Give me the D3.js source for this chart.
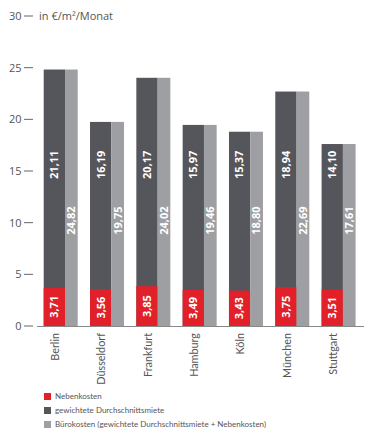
<!DOCTYPE html>
<html>
<head>
<meta charset="utf-8">
<script src="https://cdn.jsdelivr.net/npm/d3@7"></script>
<style>
body { margin: 0; background: #fff; }
text { font-family: "Open Sans", "Noto Sans", sans-serif; }
.cat, .leg text { font-family: Lato, "Open Sans", sans-serif; }
</style>
</head>
<body>
<div id="chart"></div>
<script>
var cities = ['Berlin', 'Düsseldorf', 'Frankfurt', 'Hamburg', 'Köln', 'München', 'Stuttgart']
var nebenkosten = [3.71, 3.56, 3.85, 3.49, 3.43, 3.75, 3.51]
var miete = [21.11, 16.19, 20.17, 15.97, 15.37, 18.94, 14.10]
var buero = [24.82, 19.75, 24.02, 19.46, 18.80, 22.69, 17.61]
var yTicks = [0, 5, 10, 15, 20, 25, 30]
var legendLabels = ['Nebenkosten', 'gewichtete Durchschnittsmiete', 'Bürokosten (gewichtete Durchschnittsmiete + Nebenkosten)']

var red = '#e2202a', dark = '#55565b', light = '#9e9fa3', grey = '#666'
var fmt = d => d.toFixed(2).replace('.', ',')

var svg = d3.select('#chart').append('svg').attr('width', 380).attr('height', 438)

var y = d3.scaleLinear().domain([0, 30]).range([326, 16])
var x = d3.scaleBand().domain(cities).range([35.6, 363.7]).paddingInner(0.266).paddingOuter(0.175)
var dw = x.bandwidth() * 0.627 // dark bar share of the group

// y axis: only labels and short ticks
var yAxis = svg.append('g')
yAxis.selectAll('line').data(yTicks).join('line')
  .attr('x1', 24).attr('x2', 33).attr('y1', d => y(d)).attr('y2', d => y(d))
  .attr('stroke', grey).attr('stroke-width', 1)
yAxis.selectAll('text').data(yTicks).join('text')
  .attr('x', 21.5).attr('y', d => y(d)).attr('dy', '0.35em')
  .attr('text-anchor', 'end').attr('font-size', 11).attr('fill', '#555')
  .text(d => d)

svg.append('text').attr('x', 39).attr('y', y(30)).attr('dy', '0.35em')
  .attr('font-size', 11).attr('fill', '#555').text('in €/m²/Monat')

var g = svg.selectAll('g.city').data(cities).join('g').attr('class', 'city')

g.append('rect').attr('fill', dark)
  .attr('x', d => x(d)).attr('width', dw)
  .attr('y', (d, i) => y(nebenkosten[i] + miete[i]))
  .attr('height', (d, i) => y(0) - y(nebenkosten[i] + miete[i]))
g.append('rect').attr('fill', red)
  .attr('x', d => x(d)).attr('width', dw)
  .attr('y', (d, i) => y(nebenkosten[i]))
  .attr('height', (d, i) => y(0) - y(nebenkosten[i]))
g.append('rect').attr('fill', light)
  .attr('x', d => x(d) + dw).attr('width', x.bandwidth() - dw)
  .attr('y', (d, i) => y(buero[i]))
  .attr('height', (d, i) => y(0) - y(buero[i]))

function barLabel(cx, cy, txt) {
  svg.append('text')
    .attr('transform', 'translate(' + cx + ',' + cy + ') rotate(-90)')
    .attr('text-anchor', 'middle').attr('dy', '0.35em')
    .attr('font-size', 11).attr('font-weight', 'bold').attr('fill', '#fff')
    .text(txt)
}
cities.forEach(function(c, i) {
  barLabel(x(c) + dw / 2, y(nebenkosten[i] / 2), fmt(nebenkosten[i]))
  barLabel(x(c) + dw / 2, y(15.6), fmt(miete[i]))
  barLabel(x(c) + dw + (x.bandwidth() - dw) / 2, y(10.2), fmt(buero[i]))
})

svg.append('line').attr('x1', 37).attr('x2', 364).attr('y1', 326.5).attr('y2', 326.5)
  .attr('stroke', '#888').attr('stroke-width', 1)

svg.selectAll('text.cat').data(cities).join('text').attr('class', 'cat')
  .attr('transform', d => 'translate(' + (x(d) + dw / 2 + 1) + ',333) rotate(-90)')
  .attr('text-anchor', 'end').attr('dy', '0.35em')
  .attr('font-size', 10.8).attr('fill', '#555')
  .text(d => d)

var leg = svg.selectAll('g.leg').data(legendLabels).join('g').attr('class', 'leg')
  .attr('transform', (d, i) => 'translate(44,' + (396.5 + i * 14) + ')')
leg.append('rect').attr('x', 0).attr('y', -3.5).attr('width', 7).attr('height', 7)
  .attr('fill', (d, i) => [red, dark, light][i])
leg.append('text').attr('x', 11).attr('dy', '0.35em')
  .attr('font-size', 8).attr('fill', '#555').text(d => d)
</script>
</body>
</html>
